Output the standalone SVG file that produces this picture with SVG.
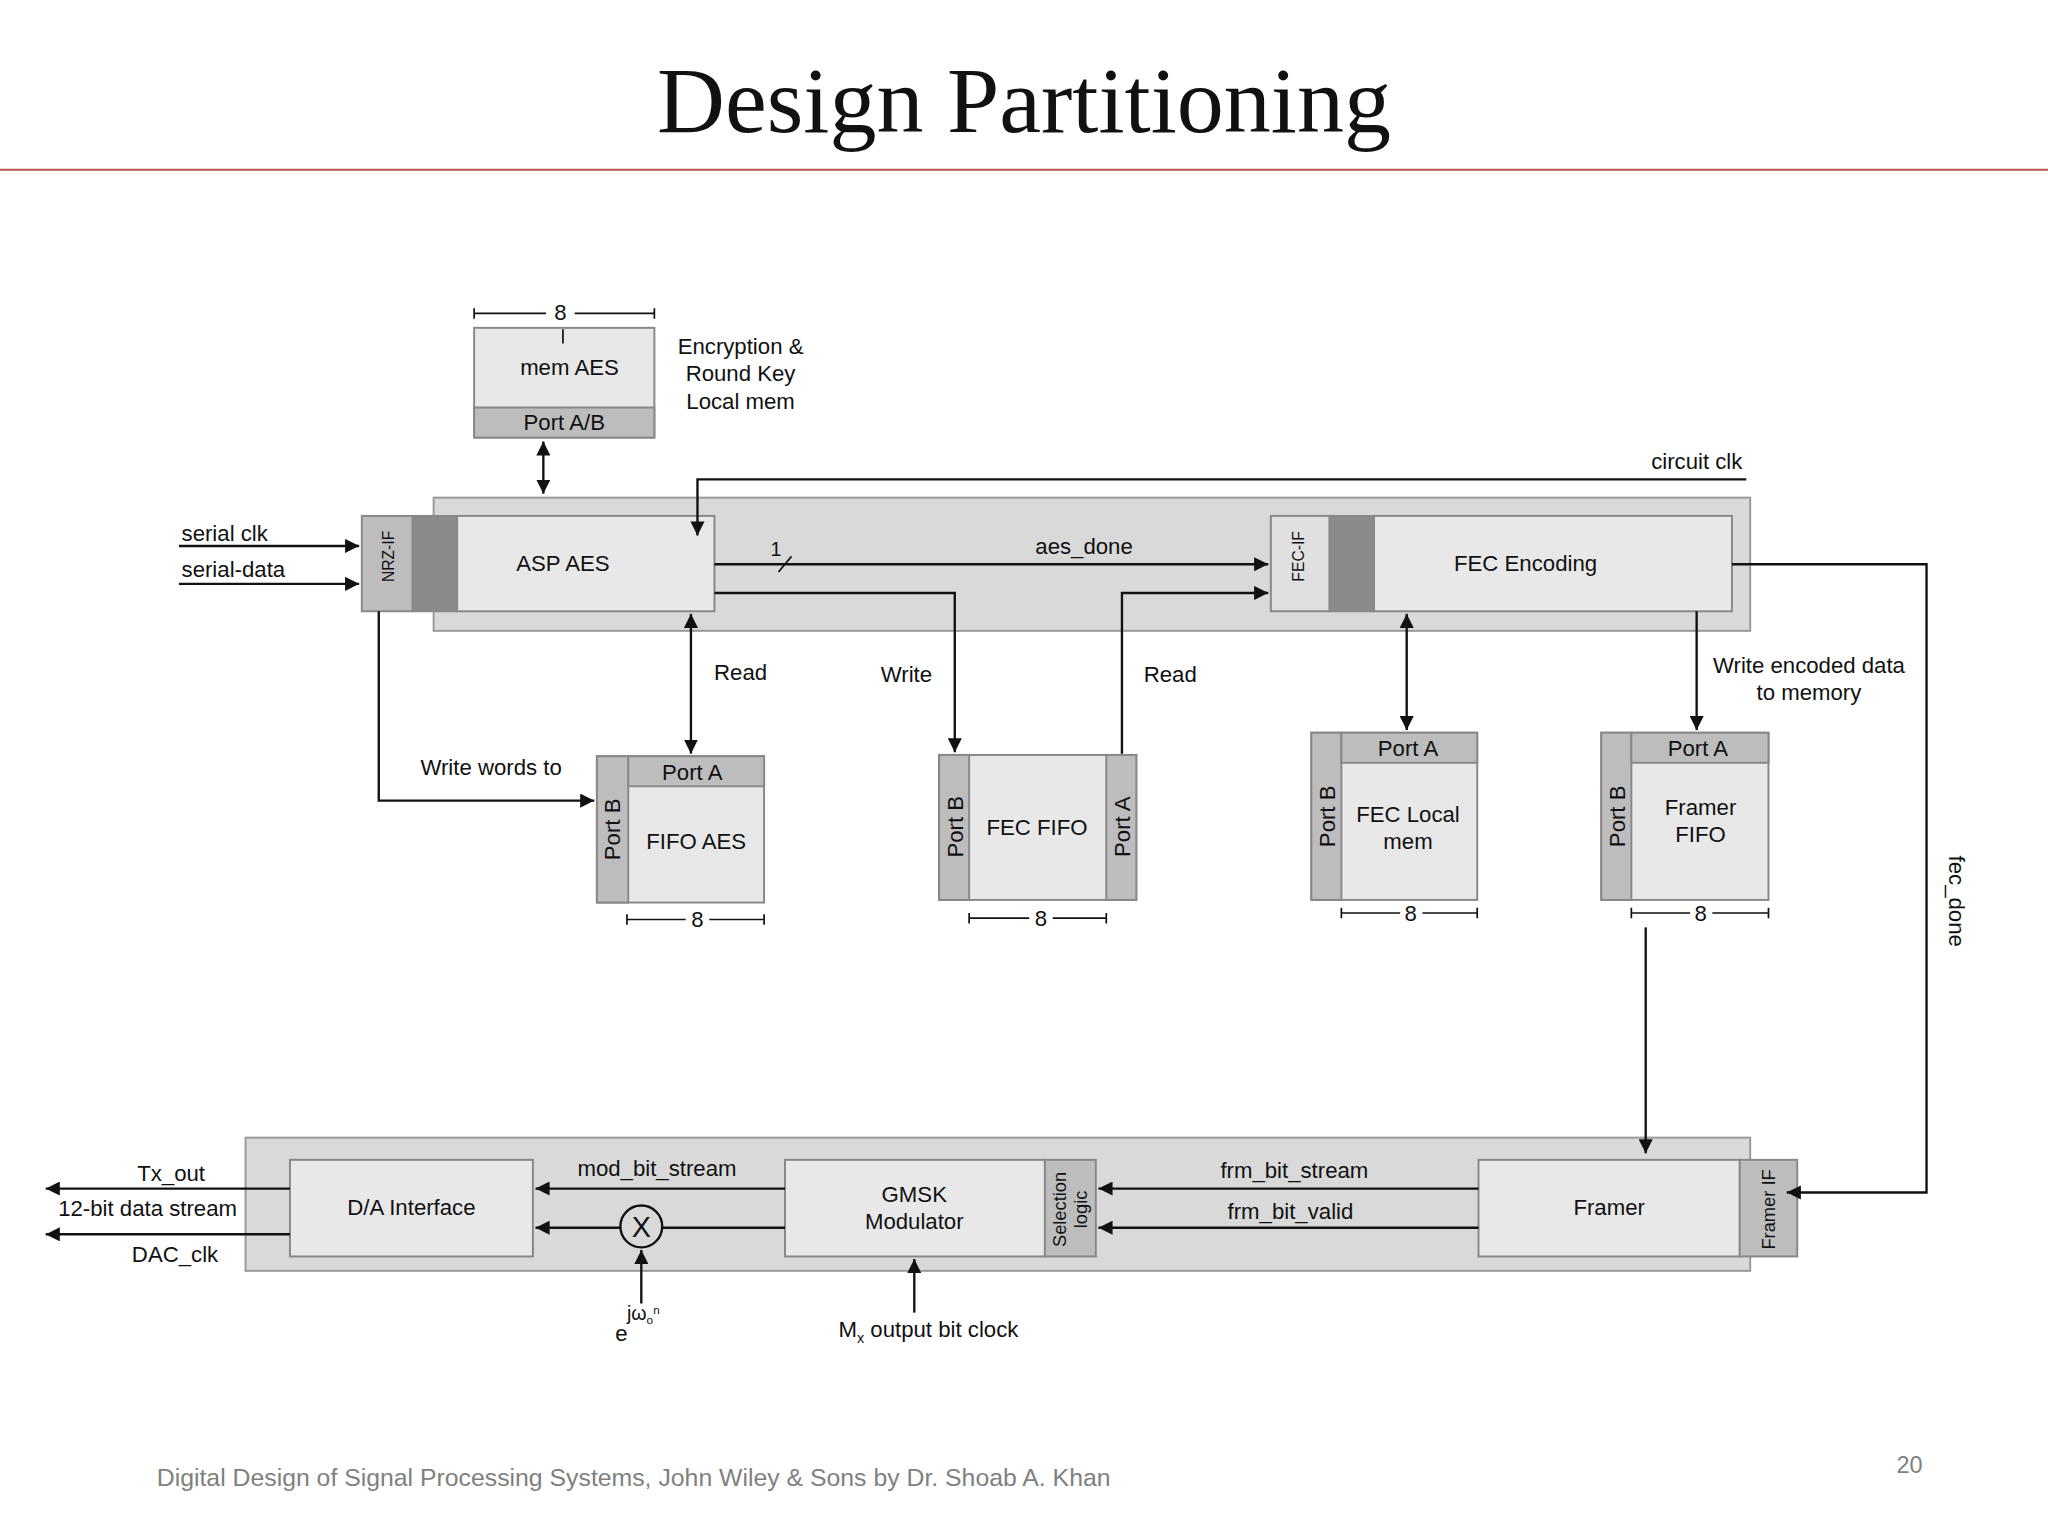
<svg xmlns="http://www.w3.org/2000/svg" width="2048" height="1536" viewBox="0 0 2048 1536">
<style>
text{font-family:"Liberation Sans",Arial,sans-serif;font-size:17px;fill:#111}
.c{text-anchor:middle}
.box{fill:#e8e8e8;stroke:#888;stroke-width:1.5}
.port{fill:#bdbdbd;stroke:#888;stroke-width:1.5}
.dark{fill:#8a8a8a;stroke:#888;stroke-width:1.5}
.cont{fill:#d9d9d9;stroke:#999;stroke-width:1.5}
.w{fill:none;stroke:#111;stroke-width:1.8}
.d{fill:none;stroke:#111;stroke-width:1.3}
</style>
<defs>
<marker id="a" viewBox="0 0 10 10" refX="10" refY="5" markerWidth="6" markerHeight="6" orient="auto-start-reverse"><path d="M0,0 L10,5 L0,10 z" fill="#111"/></marker>
</defs>
<rect width="2048" height="1536" fill="#fff"/>
<g transform="scale(1.30612)">
<text x="784" y="101" class="c" style="font-family:'Liberation Serif',serif;font-size:72px">Design Partitioning</text>
<line x1="0" y1="130" x2="1568" y2="130" stroke="#c0504d" stroke-width="1.5"/>

<rect class="cont" x="332" y="381" width="1008" height="102"/>
<rect class="cont" x="188" y="871" width="1152" height="102"/>

<g id="memAES">
<rect class="box" x="363" y="251" width="138" height="84"/>
<rect class="port" x="363" y="312" width="138" height="23"/>
<text x="436" y="287" class="c">mem AES</text>
<text x="432" y="329" class="c">Port A/B</text>
<path class="d" d="M363,240H418M440,240H501M363,236V244M501,236V244M431,252V263"/>
<text x="429" y="245" class="c">8</text>
<text x="567" y="271" class="c">Encryption &amp;</text>
<text x="567" y="292" class="c">Round Key</text>
<text x="567" y="313" class="c">Local mem</text>
</g>

<g id="aspAES">
<rect class="port" x="277" y="395" width="39" height="73"/>
<rect class="dark" x="316" y="395" width="34" height="73"/>
<rect class="box" x="350" y="395" width="197" height="73"/>
<text transform="translate(302,426) rotate(-90)" class="c" style="font-size:12px">NRZ-IF</text>
<text x="431" y="437" class="c">ASP AES</text>
</g>

<g id="fecEnc">
<rect class="box" x="973" y="395" width="45" height="73" style="fill:#e0e0e0"/>
<rect class="dark" x="1018" y="395" width="34" height="73"/>
<rect class="box" x="1052" y="395" width="274" height="73"/>
<text transform="translate(998,426) rotate(-90)" class="c" style="font-size:12px">FEC-IF</text>
<text x="1168" y="437" class="c">FEC Encoding</text>
</g>

<g id="fifoAES">
<rect class="box" x="457" y="579" width="128" height="112"/>
<rect class="port" x="457" y="579" width="24" height="112"/>
<rect class="port" x="481" y="579" width="104" height="23"/>
<text x="530" y="597" class="c">Port A</text>
<text transform="translate(475,635) rotate(-90)" class="c">Port B</text>
<text x="533" y="650" class="c">FIFO AES</text>
<path class="d" d="M480,704H525M543,704H585M480,700V708M585,700V708"/>
<text x="534" y="710" class="c">8</text>
</g>

<g id="fecFIFO">
<rect class="box" x="719" y="578" width="151" height="111"/>
<rect class="port" x="719" y="578" width="23" height="111"/>
<rect class="port" x="847" y="578" width="23" height="111"/>
<text transform="translate(737,633) rotate(-90)" class="c">Port B</text>
<text transform="translate(865,633) rotate(-90)" class="c">Port A</text>
<text x="794" y="639" class="c">FEC FIFO</text>
<path class="d" d="M742,703H788M806,703H847M742,699V707M847,699V707"/>
<text x="797" y="709" class="c">8</text>
</g>

<g id="fecLocal">
<rect class="box" x="1004" y="561" width="127" height="128"/>
<rect class="port" x="1004" y="561" width="23" height="128"/>
<rect class="port" x="1027" y="561" width="104" height="23"/>
<text x="1078" y="579" class="c">Port A</text>
<text transform="translate(1022,625) rotate(-90)" class="c">Port B</text>
<text x="1078" y="629" class="c">FEC Local</text>
<text x="1078" y="650" class="c">mem</text>
<path class="d" d="M1027,699H1072M1089,699H1131M1027,695V703M1131,695V703"/>
<text x="1080" y="705" class="c">8</text>
</g>

<g id="framerFIFO">
<rect class="box" x="1226" y="561" width="128" height="128"/>
<rect class="port" x="1226" y="561" width="23" height="128"/>
<rect class="port" x="1249" y="561" width="105" height="23"/>
<text x="1300" y="579" class="c">Port A</text>
<text transform="translate(1244,625) rotate(-90)" class="c">Port B</text>
<text x="1302" y="624" class="c">Framer</text>
<text x="1302" y="645" class="c">FIFO</text>
<path class="d" d="M1249,699H1294M1311,699H1354M1249,695V703M1354,695V703"/>
<text x="1302" y="705" class="c">8</text>
</g>

<g id="daIf">
<rect class="box" x="222" y="888" width="186" height="74"/>
<text x="315" y="930" class="c">D/A Interface</text>
</g>
<g id="gmsk">
<rect class="box" x="601" y="888" width="199" height="74"/>
<rect class="port" x="800" y="888" width="39" height="74"/>
<text x="700" y="920" class="c">GMSK</text>
<text x="700" y="941" class="c">Modulator</text>
<text transform="translate(816,926) rotate(-90)" class="c" style="font-size:14px">Selection</text>
<text transform="translate(832,926) rotate(-90)" class="c" style="font-size:14px">logic</text>
</g>
<g id="framer">
<rect class="box" x="1132" y="888" width="200" height="74"/>
<rect class="port" x="1332" y="888" width="44" height="74"/>
<text x="1232" y="930" class="c">Framer</text>
<text transform="translate(1359,926) rotate(-90)" class="c" style="font-size:14px">Framer IF</text>
</g>
<g id="mult">
<circle cx="491" cy="939" r="16" fill="none" stroke="#111" stroke-width="1.8"/>
<text x="491" y="947" class="c" style="font-size:22px">X</text>
</g>

<g id="connectors">
<path class="w" d="M416,338V378" marker-start="url(#a)" marker-end="url(#a)"/>
<path class="w" d="M1337,367H534V410" marker-end="url(#a)"/>
<path class="w" d="M137,418H275" marker-end="url(#a)"/>
<path class="w" d="M137,447H275" marker-end="url(#a)"/>
<path class="w" d="M547,432H971" marker-end="url(#a)"/>
<path class="d" d="M596,438L606,426"/>
<path class="w" d="M547,454H731V576" marker-end="url(#a)"/>
<path class="w" d="M859,577V454H971" marker-end="url(#a)"/>
<path class="w" d="M529,470V577" marker-start="url(#a)" marker-end="url(#a)"/>
<path class="w" d="M290,468V613H455" marker-end="url(#a)"/>
<path class="w" d="M1077,470V559" marker-start="url(#a)" marker-end="url(#a)"/>
<path class="w" d="M1299,468V559" marker-end="url(#a)"/>
<path class="w" d="M1326,432H1475V913H1368" marker-end="url(#a)"/>
<path class="w" d="M1260,710V883" marker-end="url(#a)"/>
<path class="w" d="M1132,910H841" marker-end="url(#a)"/>
<path class="w" d="M1132,940H841" marker-end="url(#a)"/>
<path class="w" d="M601,910H410" marker-end="url(#a)"/>
<path class="w" d="M601,940H507M475,940H410" marker-end="url(#a)"/>
<path class="w" d="M491,998V957" marker-end="url(#a)"/>
<path class="w" d="M700,1005V964" marker-end="url(#a)"/>
<path class="w" d="M222,910H35" marker-end="url(#a)"/>
<path class="w" d="M222,945H35" marker-end="url(#a)"/>
</g>

<text x="1334" y="359" text-anchor="end">circuit clk</text>
<text x="139" y="414">serial clk</text>
<text x="139" y="442">serial-data</text>
<text x="594" y="426" class="c" style="font-size:15px">1</text>
<text x="830" y="424" class="c">aes_done</text>
<text x="567" y="521" class="c">Read</text>
<text x="694" y="522" class="c">Write</text>
<text x="896" y="522" class="c">Read</text>
<text x="376" y="593" class="c">Write words to</text>
<text x="1385" y="515" class="c">Write encoded data</text>
<text x="1385" y="536" class="c">to memory</text>
<text transform="translate(1492,690) rotate(90)" class="c">fec_done</text>
<text x="991" y="902" class="c">frm_bit_stream</text>
<text x="988" y="933" class="c">frm_bit_valid</text>
<text x="503" y="900" class="c">mod_bit_stream</text>
<text x="131" y="904" class="c">Tx_out</text>
<text x="113" y="931" class="c">12-bit data stream</text>
<text x="134" y="966" class="c">DAC_clk</text>
<text x="471" y="1027">e</text>
<text x="480" y="1011" style="font-size:15px">jω<tspan style="font-size:9px" dy="3">o</tspan><tspan style="font-size:9px" dy="-8">n</tspan></text>
<text x="642" y="1024">M<tspan style="font-size:11px" dy="4">x</tspan><tspan dy="-4"> output bit clock</tspan></text>

<text x="120" y="1138" style="fill:#808080;font-size:19px">Digital Design of Signal Processing Systems, John Wiley &amp; Sons by Dr. Shoab A. Khan</text>
<text x="1462" y="1128" class="c" style="fill:#808080;font-size:18px">20</text>
</g>
</svg>
